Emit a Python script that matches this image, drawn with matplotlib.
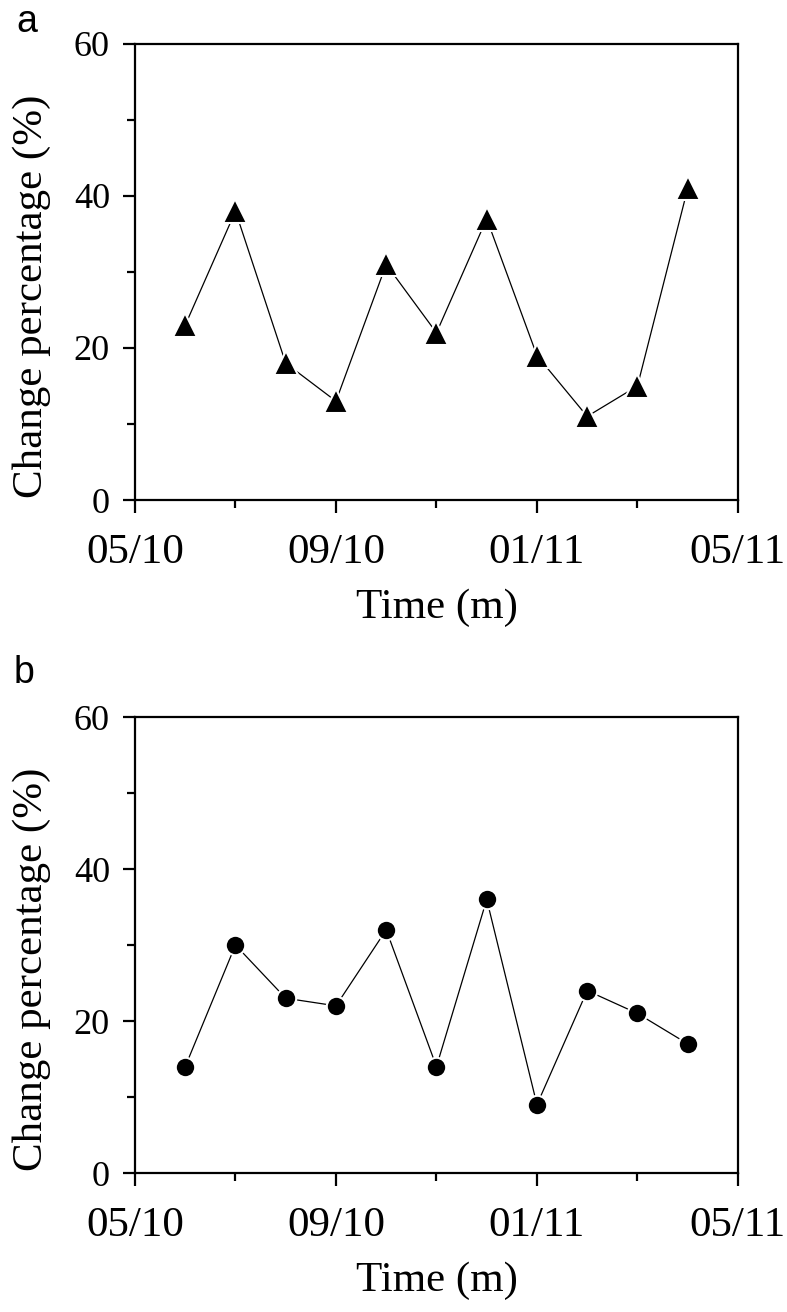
import matplotlib
matplotlib.use("Agg")
import matplotlib.pyplot as plt
from matplotlib.ticker import MultipleLocator

plt.rcParams['font.family'] = ['Liberation Serif', 'DejaVu Serif']

# months after 05/2010
months = [1, 2, 3, 4, 5, 6, 7, 8, 9, 10, 11]
change_a = [23, 38, 18, 13, 31, 22, 37, 19, 11, 15, 41]
change_b = [14, 30, 23, 22, 32, 14, 36, 9, 24, 21, 17]
xtick_pos = [0, 4, 8, 12]
xtick_labels = ['05/10', '09/10', '01/11', '05/11']

fig = plt.figure(figsize=(7.87, 13.12), dpi=100)
ax_a = fig.add_axes([0.1715, 0.6189, 0.7662, 0.3476])
ax_b = fig.add_axes([0.1715, 0.1059, 0.7662, 0.3476])


def style(ax):
    ax.set_xlim(0, 12)
    ax.set_ylim(0, 60)
    ax.set_xticks(xtick_pos)
    ax.set_xticklabels(xtick_labels)
    ax.xaxis.set_minor_locator(MultipleLocator(2))
    ax.yaxis.set_major_locator(MultipleLocator(20))
    ax.yaxis.set_minor_locator(MultipleLocator(10))
    for s in ax.spines.values():
        s.set_linewidth(1.6)
    ax.tick_params(which='major', direction='out', length=9, width=1.6)
    ax.tick_params(which='minor', direction='out', length=5.5, width=1.6)
    ax.tick_params(axis='y', labelsize=26, pad=9)
    ax.tick_params(axis='x', labelsize=31, pad=15)
    ax.set_xlabel('Time (m)', fontsize=31, labelpad=12)
    ax.set_ylabel('Change percentage (%)', fontsize=31)
    ax.yaxis.set_label_coords(-0.14, 0.447)


ax_a.plot(months, change_a, color='black', lw=0.9, marker='^', ms=17,
          mfc='black', mec='white', mew=1.5)
style(ax_a)
fig.text(0.021, 0.9756, 'a', fontsize=27, family='Liberation Sans')

ax_b.plot(months, change_b, color='black', lw=0.9, marker='o', ms=14,
          mfc='black', mec='white', mew=1.5)
style(ax_b)
fig.text(0.017, 0.4794, 'b', fontsize=27, family='Liberation Sans')

fig.savefig('out.png', dpi=100)
